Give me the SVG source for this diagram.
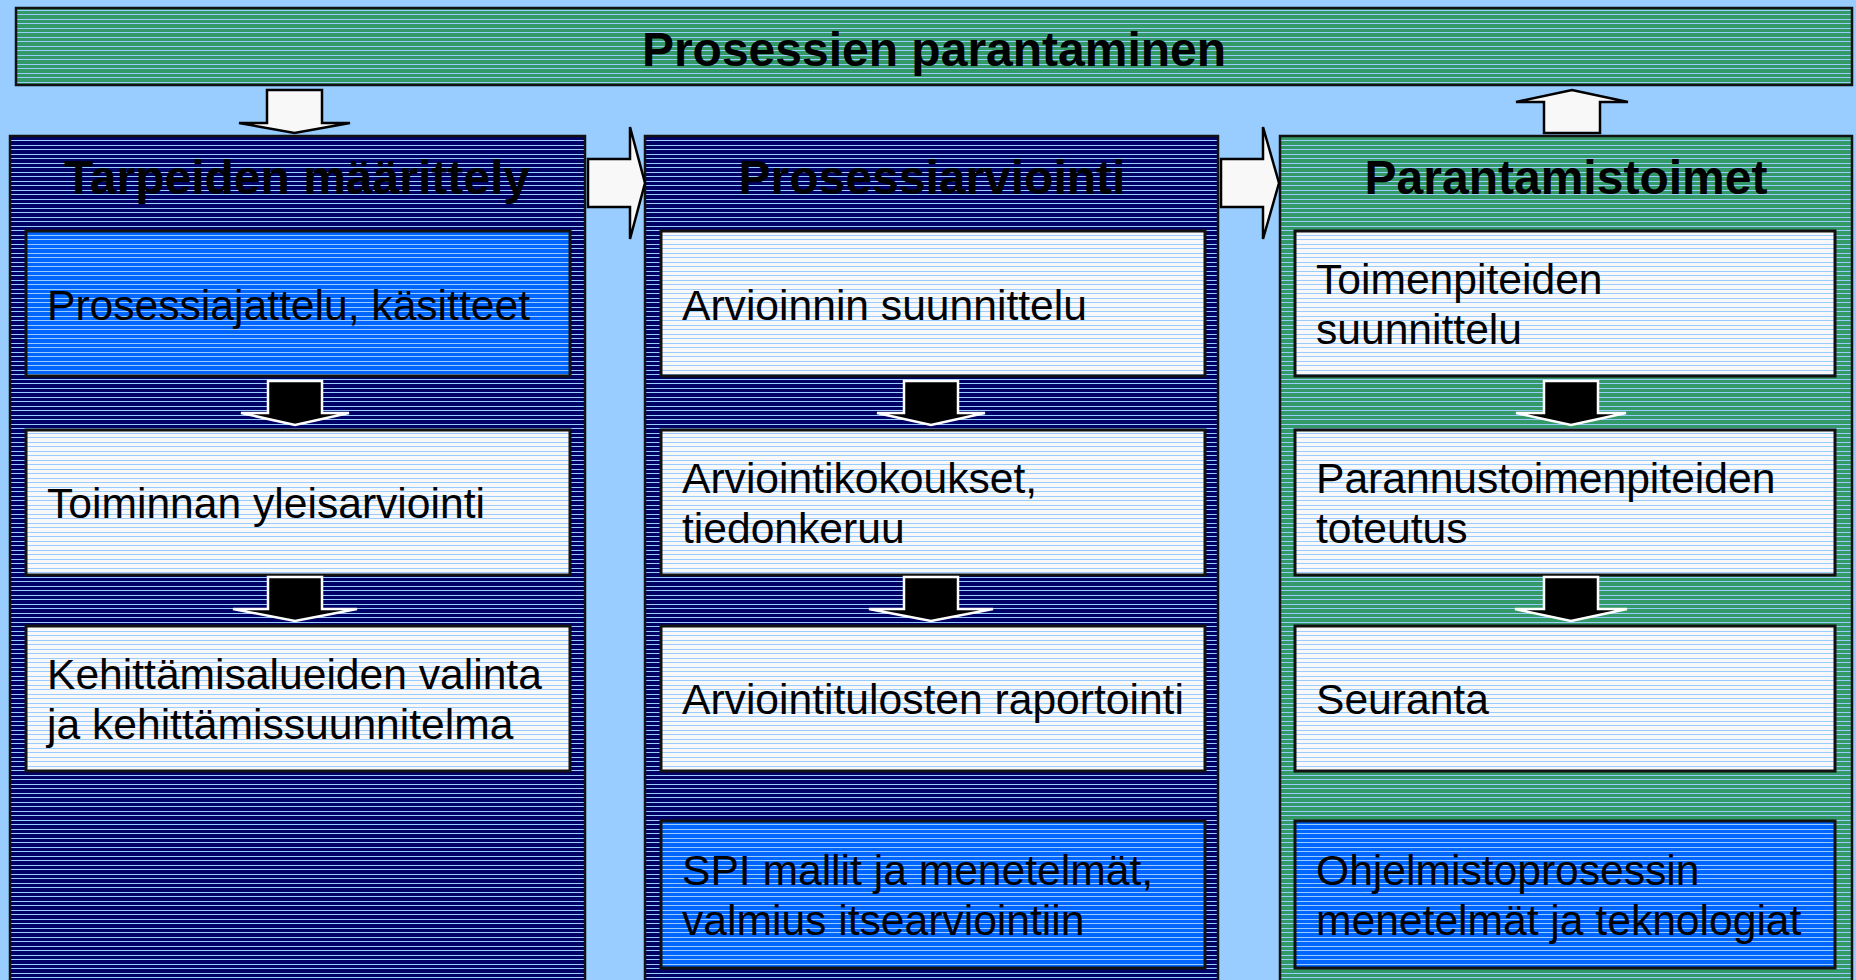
<svg xmlns="http://www.w3.org/2000/svg" width="1856" height="980" viewBox="0 0 1856 980">
<defs>
<pattern id="pNavy" width="16" height="9" patternUnits="userSpaceOnUse"><rect width="16" height="9" fill="#000066"/><rect y="1" width="16" height="1" fill="#99CCFF"/><rect y="5" width="16" height="1" fill="#99CCFF"/></pattern>
<pattern id="pGreen" width="16" height="9" patternUnits="userSpaceOnUse"><rect width="16" height="9" fill="#339966"/><rect y="1" width="16" height="1" fill="#99CCFF"/><rect y="5" width="16" height="1" fill="#99CCFF"/></pattern>
<pattern id="pWhite" width="16" height="9" patternUnits="userSpaceOnUse"><rect width="16" height="9" fill="#F8F8F8"/><rect y="1" width="16" height="1" fill="#99CCFF"/><rect y="5" width="16" height="1" fill="#99CCFF"/></pattern>
<pattern id="pBlue" width="16" height="9" patternUnits="userSpaceOnUse"><rect width="16" height="9" fill="#0066FF"/><rect y="1" width="16" height="1" fill="#99CCFF"/><rect y="5" width="16" height="1" fill="#99CCFF"/></pattern>
<style>
.col{stroke:#111;stroke-width:2.5}
.box{stroke:#111;stroke-width:3}
.head{font-family:"Liberation Sans",Arial,sans-serif;font-weight:bold;font-size:48px;fill:#000;text-anchor:middle}
.t{font-family:"Liberation Sans",Arial,sans-serif;font-size:42.6px;fill:#000}
.wa{fill:#F8F8F8;stroke:#000;stroke-width:2.5;stroke-linejoin:miter}
.ba{fill:#000;stroke:#fff;stroke-width:2.5;stroke-linejoin:miter}
</style>
</defs>
<rect width="1856" height="980" fill="#99CCFF"/>

<g id="banner">
<rect x="16" y="8" width="1836" height="77" fill="url(#pGreen)" class="col"/>
<text x="934" y="66" class="head">Prosessien parantaminen</text>
</g>

<g id="col-tarpeiden">
<rect x="10" y="136" width="575" height="860" fill="url(#pNavy)" class="col"/>
<text x="297" y="194" class="head">Tarpeiden määrittely</text>
</g>
<g id="col-arviointi">
<rect x="645" y="136" width="573" height="860" fill="url(#pNavy)" class="col"/>
<text x="932" y="194" class="head">Prosessiarviointi</text>
</g>
<g id="col-parantamistoimet">
<rect x="1280" y="136" width="572" height="860" fill="url(#pGreen)" class="col"/>
<text x="1566" y="194" class="head">Parantamistoimet</text>
</g>

<g id="box-l1"><rect x="26" y="231" width="544" height="145" fill="url(#pBlue)" class="box"/><text x="47" y="320" class="t">Prosessiajattelu, käsitteet</text></g>
<g id="box-l2"><rect x="26" y="430" width="544" height="145" fill="url(#pWhite)" class="box"/><text x="47" y="518" class="t">Toiminnan yleisarviointi</text></g>
<g id="box-l3"><rect x="26" y="626" width="544" height="145" fill="url(#pWhite)" class="box"/><text x="47" y="689" class="t">Kehittämisalueiden valinta</text><text x="47" y="739" class="t">ja kehittämissuunnitelma</text></g>

<g id="box-m1"><rect x="661" y="231" width="544" height="145" fill="url(#pWhite)" class="box"/><text x="682" y="320" class="t">Arvioinnin suunnittelu</text></g>
<g id="box-m2"><rect x="661" y="430" width="544" height="145" fill="url(#pWhite)" class="box"/><text x="682" y="493" class="t">Arviointikokoukset,</text><text x="682" y="543" class="t">tiedonkeruu</text></g>
<g id="box-m3"><rect x="661" y="626" width="544" height="145" fill="url(#pWhite)" class="box"/><text x="682" y="714" class="t">Arviointitulosten raportointi</text></g>
<g id="box-m4"><rect x="661" y="821" width="544" height="147" fill="url(#pBlue)" class="box"/><text x="682" y="885" class="t">SPI mallit ja menetelmät,</text><text x="682" y="935" class="t">valmius itsearviointiin</text></g>

<g id="box-r1"><rect x="1295" y="231" width="540" height="145" fill="url(#pWhite)" class="box"/><text x="1316" y="294" class="t">Toimenpiteiden</text><text x="1316" y="344" class="t">suunnittelu</text></g>
<g id="box-r2"><rect x="1295" y="430" width="540" height="145" fill="url(#pWhite)" class="box"/><text x="1316" y="493" class="t">Parannustoimenpiteiden</text><text x="1316" y="543" class="t">toteutus</text></g>
<g id="box-r3"><rect x="1295" y="626" width="540" height="145" fill="url(#pWhite)" class="box"/><text x="1316" y="714" class="t">Seuranta</text></g>
<g id="box-r4"><rect x="1295" y="821" width="540" height="147" fill="url(#pBlue)" class="box"/><text x="1316" y="885" class="t">Ohjelmistoprosessin</text><text x="1316" y="935" class="t">menetelmät ja teknologiat</text></g>

<g id="connectors">
<polygon class="wa" points="267,90 322,90 322,123 350,123 294.5,133 239,123 267,123"/>
<polygon class="wa" points="1544,133 1600,133 1600,102 1628,102 1572,90 1516,102 1544,102"/>
<polygon class="wa" points="588,159 630,159 630,127 645,183 630,239 630,207 588,207"/>
<polygon class="wa" points="1221,159 1263,159 1263,127 1279,183 1263,239 1263,207 1221,207"/>

<polygon class="ba" points="268,381 322,381 322,413 349,413 295,425 241,413 268,413"/>
<polygon class="ba" points="268,577 322,577 322,609 357,609 295,621 233,609 268,609"/>
<polygon class="ba" points="904,381 958,381 958,413 985,413 931,425 877,413 904,413"/>
<polygon class="ba" points="904,577 958,577 958,609 993,609 931,621 869,609 904,609"/>
<polygon class="ba" points="1544,381 1598,381 1598,413 1626,413 1571,425 1516,413 1544,413"/>
<polygon class="ba" points="1544,577 1598,577 1598,609 1627,609 1571,621 1515,609 1544,609"/>
</g>
</svg>
